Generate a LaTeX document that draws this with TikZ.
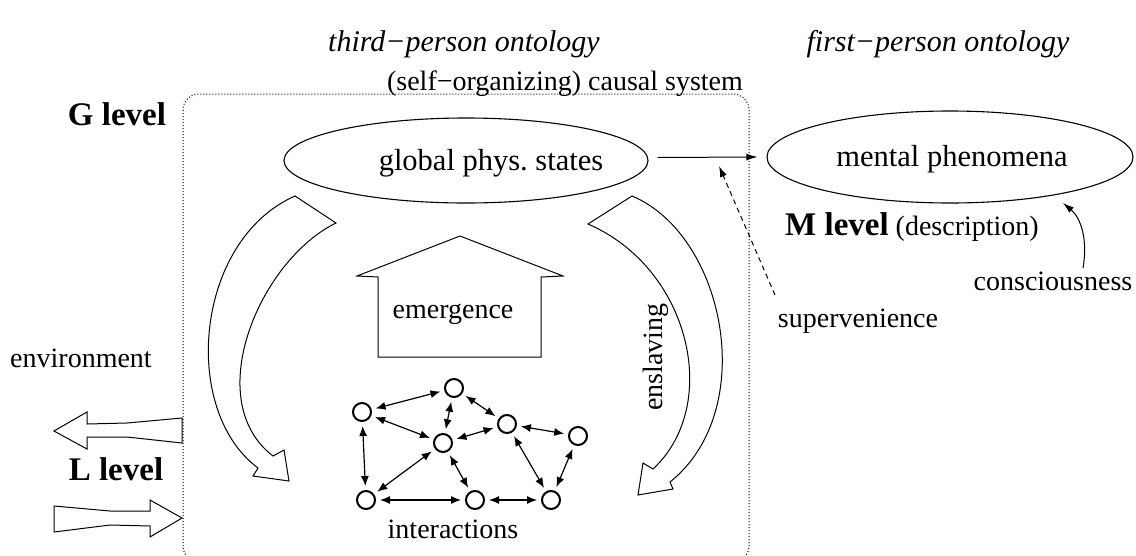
\documentclass[tikz,border=0pt]{standalone}
\usepackage{fontspec}
\setmainfont{Liberation Serif}
\usetikzlibrary{arrows.meta,shapes.geometric}
\begin{document}
\begin{tikzpicture}[x=1pt,y=-1pt,
  txt/.style={font=\fontsize{28}{32}\selectfont, inner sep=0pt, anchor=base},
  etxt/.style={font=\fontsize{30.5}{34}\selectfont, inner sep=0pt, anchor=base},
  bld/.style={font=\fontsize{33}{38}\selectfont\bfseries, inner sep=0pt, anchor=base},
  ttl/.style={font=\fontsize{30}{34}\selectfont\itshape, inner sep=0pt, anchor=base},
  ell/.style={draw, ellipse, line width=1.1pt, inner sep=0pt},
  nd/.style={draw, circle, line width=2pt, minimum size=18pt, inner sep=0pt},
  link/.style={{Latex[length=10pt,width=8pt]}-{Latex[length=10pt,width=8pt]}, line width=1.2pt, shorten >=4pt, shorten <=4pt},
  outline/.style={draw, line width=1pt, line join=miter},
  dotbox/.style={line width=1pt, dash pattern=on 1pt off 2pt, rounded corners=16pt},
]
\useasboundingbox (0,0) rectangle (1136,555);
\clip (0,0) rectangle (1136,555);

% titles
\node[ttl] (t3) at (464,51) {third−person ontology};
\node[ttl] (t1) at (938,51) {first−person ontology};
\node[txt] (sys) at (565,90) {(self−organizing) causal system};

% system box
\draw[dotbox] (183,94) rectangle (749,562);

% level labels
\node[bld] (glev) at (117,125) {G level};
\node[bld] (llev) at (116,480) {L level};
\node[txt] (env) at (81,367) {environment};

% ellipses
\node[ell, minimum width=364pt, minimum height=85pt] (glob) at (466,160.5) {};
\node[etxt] (globt) at (491,170) {global phys.\ states};
\node[ell, minimum width=366pt, minimum height=92pt] (ment) at (950,157) {};
\node[etxt] (mentt) at (952,166) {mental phenomena};

\draw[line width=1pt, -{Latex[length=11pt,width=7pt]}] ([xshift=9pt,yshift=3pt]glob.east) -- ([xshift=-9pt]ment.west);

% M level
\node[anchor=base west, inner sep=0pt] (mlev) at (785,235) {\fontsize{33}{38}\selectfont\bfseries M level\fontsize{28}{32}\selectfont\mdseries\ (description)};

% supervenience
\node[txt] (superv) at (858,327) {supervenience};
\coordinate (svs) at (775,295);
\coordinate (svt) at (719,166);
\draw[line width=1pt, dash pattern=on 5pt off 4pt, -{Latex[length=11pt,width=7pt]}] (svs) -- (svt);

% consciousness
\node[txt] (cons) at (1053,290) {consciousness};
\coordinate (cs) at (1083,268);
\coordinate (ct) at (1063,203);
\draw[line width=1pt, -{Latex[length=11pt,width=7pt]}] (cs) .. controls (1088,240) and (1081,218) .. (ct);

% emergence
\draw[outline] (460,236) -- (563,276) -- (541,277) -- (541,357) -- (378,357) -- (378,277) -- (357,276) -- cycle;
\node[txt] (emer) at (453,318) {emergence};

% big curved arrows
\draw[outline] (295,196) -- (336,223) .. controls (260,260) and (200,400) .. (273,456) -- (284,450) -- (289,481) -- (253,476) -- (258,468) .. controls (180,410) and (195,240) .. (295,196) -- cycle;
\draw[outline] (588,224) -- (632,196) .. controls (725,235) and (760,410) .. (670,482) -- (673,489) -- (638,495) -- (643,463) -- (653,469) .. controls (722,405) and (690,268) .. (588,224) -- cycle;
\node[txt, anchor=center, rotate=90] (ensl) at (656,357) {enslaving};

% L level arrows
\draw[outline] (182,418) -- (127,423) -- (87,424) -- (87,412) -- (54,431) -- (87,449) -- (87,437) -- (127,437) -- (182,443) -- cycle;
\draw[outline] (54,506) -- (110,511) -- (150,511) -- (150,500) -- (182,518) -- (150,537) -- (150,526) -- (110,525) -- (54,532) -- cycle;

% network
\node[nd] (n1) at (362,412) {};
\node[nd] (n2) at (454,388) {};
\node[nd] (n3) at (443,443) {};
\node[nd] (n4) at (507,424) {};
\node[nd] (n5) at (578,436) {};
\node[nd] (n6) at (366,500) {};
\node[nd] (n7) at (475,500) {};
\node[nd] (n8) at (551,500) {};
\foreach \a/\b in {n1/n2,n1/n3,n2/n3,n2/n4,n3/n4,n4/n5,n1/n6,n3/n6,n3/n7,n4/n8,n5/n8,n6/n7,n7/n8}
  \draw[link] (\a) -- (\b);
\node[txt] (inter) at (453,538) {interactions};
\end{tikzpicture}
\end{document}
